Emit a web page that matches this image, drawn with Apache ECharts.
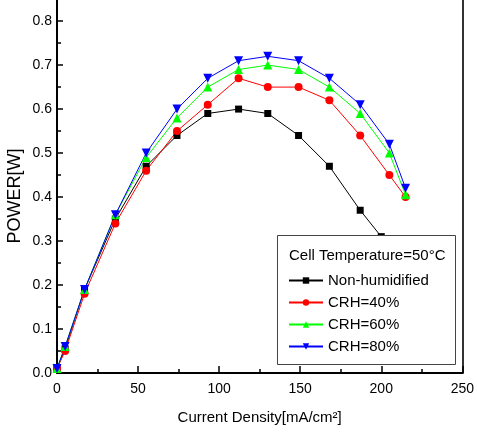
<!DOCTYPE html>
<html>
<head>
<meta charset="utf-8">
<script src="https://cdn.jsdelivr.net/npm/echarts@6/dist/echarts.min.js"></script>
<style>
  html, body { margin: 0; padding: 0; background: #fff; }
  #chart { width: 477px; height: 434px; }
</style>
</head>
<body>
<div id="chart"></div>
<script>
// Current density (mA/cm²) at each measurement point
var currentDensity = [0, 5, 17, 36, 55, 74, 93, 112, 130, 149, 168, 187, 205, 215];
var currentDensityDry = [0, 5, 17, 36, 55, 74, 93, 112, 130, 149, 168, 187, 200];

// Power output (W) for each humidification condition
var powerDry = [0.01, 0.055, 0.19, 0.35, 0.47, 0.54, 0.59, 0.60, 0.59, 0.54, 0.47, 0.37, 0.31];
var powerCRH40 = [0.01, 0.05, 0.18, 0.34, 0.46, 0.55, 0.61, 0.67, 0.65, 0.65, 0.62, 0.54, 0.45, 0.40];
var powerCRH60 = [0.01, 0.06, 0.19, 0.36, 0.49, 0.58, 0.65, 0.69, 0.70, 0.69, 0.65, 0.59, 0.50, 0.405];
var powerCRH80 = [0.01, 0.06, 0.19, 0.36, 0.50, 0.60, 0.67, 0.71, 0.72, 0.71, 0.67, 0.61, 0.52, 0.42];

var seriesNames = ['Non-humidified', 'CRH=40%', 'CRH=60%', 'CRH=80%'];
var yTicks = [0.0, 0.1, 0.2, 0.3, 0.4, 0.5, 0.6, 0.7, 0.8];
var xTicks = [0, 50, 100, 150, 200, 250];

var FONT = '"Liberation Sans", Arial, sans-serif';

function pairs(xs, ys) {
  return ys.map(function (y, i) { return [xs[i], y]; });
}

function lineSeries(name, xs, ys, color, symbol, size, rotate) {
  return {
    name: name,
    type: 'line',
    data: pairs(xs, ys),
    symbol: symbol,
    symbolSize: size,
    symbolRotate: rotate || 0,
    showSymbol: true,
    animation: false,
    lineStyle: { color: color, width: 1 },
    itemStyle: { color: color, borderWidth: 0 },
    emphasis: { disabled: true }
  };
}

var chart = echarts.init(document.getElementById('chart'), null, { renderer: 'canvas' });

chart.setOption({
  animation: false,
  backgroundColor: '#fff',
  grid: { left: 57, right: 13, top: 0, bottom: 61, containLabel: false },
  xAxis: {
    type: 'value',
    min: xTicks[0],
    max: xTicks[xTicks.length - 1],
    interval: 50,
    name: 'Current Density[mA/cm²]',
    nameLocation: 'middle',
    nameGap: 37,
    nameTextStyle: { fontFamily: FONT, fontSize: 15, color: '#000' },
    axisLine: { show: true, onZero: false, lineStyle: { color: '#000', width: 2 } },
    axisTick: { show: true, inside: true, length: 7, lineStyle: { color: '#000', width: 1.5 } },
    minorTick: { show: true, splitNumber: 2, length: 4, lineStyle: { color: '#000', width: 1.5 } },
    axisLabel: { fontFamily: FONT, fontSize: 14, color: '#000', margin: 9 },
    splitLine: { show: false }
  },
  yAxis: [{
    type: 'value',
    min: 0,
    max: 0.848,
    interval: 0.1,
    axisLine: { show: true, onZero: false, lineStyle: { color: '#000', width: 2 } },
    axisTick: { show: true, inside: true, length: 6, lineStyle: { color: '#000', width: 1.5 },
                customValues: yTicks },
    minorTick: { show: true, splitNumber: 2, length: 4, lineStyle: { color: '#000', width: 1.5 } },
    axisLabel: {
      fontFamily: FONT, fontSize: 14, color: '#000', margin: 5,
      customValues: yTicks,
      formatter: function (v) { return v.toFixed(1); }
    },
    splitLine: { show: false }
  }, {
    type: 'value',
    position: 'right',
    min: 0,
    max: 0.848,
    axisLine: { show: true, onZero: false, lineStyle: { color: '#333', width: 2 } },
    axisTick: { show: false },
    axisLabel: { show: false },
    splitLine: { show: false }
  }],
  legend: {
    data: seriesNames,
    orient: 'vertical',
    left: 288,
    top: 273,
    itemWidth: 34,
    itemHeight: 8,
    itemGap: 7,
    padding: 0,
    z: 20,
    selectedMode: false,
    textStyle: { fontFamily: FONT, fontSize: 15, color: '#000' }
  },
  graphic: [{
    type: 'rect',
    z: 10,
    shape: { x: 277.5, y: 235.5, width: 178, height: 129 },
    style: { fill: '#fff', stroke: '#444', lineWidth: 1 }
  }, {
    type: 'text',
    z: 21,
    left: 289,
    top: 248,
    style: { text: 'Cell Temperature=50°C', font: '15px ' + FONT, fill: '#000' }
  }, {
    type: 'text',
    z: 21,
    x: 15,
    y: 196,
    rotation: Math.PI / 2,
    style: {
      text: 'POWER[W]', font: '18px ' + FONT, fill: '#000',
      align: 'center', verticalAlign: 'middle'
    }
  }],
  series: [
    lineSeries(seriesNames[0], currentDensityDry, powerDry, '#000000', 'rect', 7),
    lineSeries(seriesNames[1], currentDensity, powerCRH40, '#ff0000', 'circle', 8),
    lineSeries(seriesNames[2], currentDensity, powerCRH60, '#00ff00', 'triangle', 9),
    lineSeries(seriesNames[3], currentDensity, powerCRH80, '#0000ff', 'triangle', 9, 180)
  ]
});
</script>
</body>
</html>
